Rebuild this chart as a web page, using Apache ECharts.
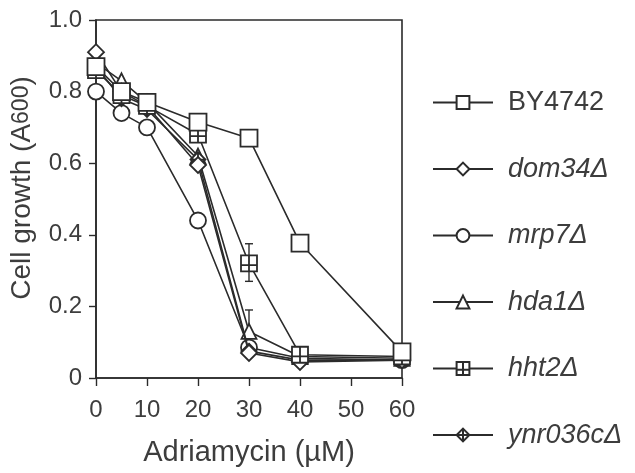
<!DOCTYPE html>
<html>
<head>
<meta charset="utf-8">
<script src="https://cdn.jsdelivr.net/npm/echarts@6/dist/echarts.min.js"></script>
<style>
  html, body { margin: 0; padding: 0; background: #fff; }
  #chart { width: 635px; height: 473px; }
</style>
</head>
<body>
<div id="chart"></div>
<script>
// Adriamycin doses (µM)
const doses = [0, 5, 10, 20, 30, 40, 60];

// Cell growth (A600) per strain
const by4742  = [0.87, 0.80, 0.77, 0.715, 0.67, 0.377, 0.073];
const dom34   = [0.91, 0.80, 0.76, 0.595, 0.07, 0.045, 0.05];
const mrp7    = [0.80, 0.74, 0.70, 0.44, 0.085, 0.055, 0.05];
const hda1    = [0.88, 0.83, 0.77, 0.62, 0.13, 0.06, 0.055];
const hht2    = [0.86, 0.79, 0.76, 0.68, 0.32, 0.065, 0.06];
const ynr036c = [0.87, 0.78, 0.75, 0.61, 0.075, 0.05, 0.05];

// Error bars: [dose, low, high]
const hht2Err = [[30, 0.27, 0.375]];
const hda1Err = [[30, 0.09, 0.19]];

const ink = '#2b2b2b';
const textInk = '#3d3d3d';
const font = 'Liberation Sans, Arial, sans-serif';

const squareCross = 'path://M0,0L10,0L10,10L0,10Z M5,0L5,10 M0,6L10,6';
const diamondCross = 'path://M5,0L10,5L5,10L0,5Z M5,0L5,10 M0,5L10,5';

function pairs(vals) { return doses.map((d, i) => [d, vals[i]]); }

function lineSeries(name, vals, symbol, size, z) {
  return {
    name: name,
    type: 'line',
    data: pairs(vals),
    symbol: symbol,
    symbolSize: size,
    showAllSymbol: true,
    z: z,
    lineStyle: { color: ink, width: 1.6 },
    itemStyle: { color: '#fff', borderColor: ink, borderWidth: 1.8 }
  };
}

function errSeries(name, data) {
  return {
    name: name,
    type: 'custom',
    z: 1,
    data: data,
    renderItem: function (params, api) {
      const x = api.value(0);
      const lo = api.coord([x, api.value(1)]);
      const hi = api.coord([x, api.value(2)]);
      const w = 4;
      return {
        type: 'group',
        children: [
          { type: 'line', shape: { x1: lo[0], y1: lo[1], x2: hi[0], y2: hi[1] }, style: { stroke: ink, lineWidth: 1.4 } },
          { type: 'line', shape: { x1: hi[0] - w, y1: hi[1], x2: hi[0] + w, y2: hi[1] }, style: { stroke: ink, lineWidth: 1.4 } },
          { type: 'line', shape: { x1: lo[0] - w, y1: lo[1], x2: lo[0] + w, y2: lo[1] }, style: { stroke: ink, lineWidth: 1.4 } }
        ]
      };
    }
  };
}

const chart = echarts.init(document.getElementById('chart'), null, { renderer: 'canvas' });

chart.setOption({
  animation: false,
  backgroundColor: '#fff',
  textStyle: { fontFamily: font },
  grid: {
    left: 96, right: 233, top: 20, bottom: 95,
    show: true, borderColor: ink, borderWidth: 1.6, backgroundColor: 'transparent'
  },
  xAxis: {
    type: 'value',
    min: 0, max: 60, interval: 10,
    name: 'Adriamycin (µM)',
    nameLocation: 'middle',
    nameGap: 60,
    nameTextStyle: { fontSize: 29, color: textInk },
    axisLine: { lineStyle: { color: ink, width: 1.6 } },
    axisTick: { length: 8, lineStyle: { color: ink, width: 1.4 } },
    axisLabel: { fontSize: 24, color: textInk, margin: 20 },
    splitLine: { show: false }
  },
  yAxis: {
    type: 'value',
    min: 0, max: 1, interval: 0.2,
    axisLine: { show: true, lineStyle: { color: ink, width: 1.6 } },
    axisTick: { show: true, length: 7, lineStyle: { color: ink, width: 1.4 } },
    axisLabel: {
      fontSize: 24, color: textInk, margin: 14,
      formatter: v => (v === 0 ? '0' : v.toFixed(1))
    },
    splitLine: { show: false }
  },
  graphic: [{
    type: 'text',
    x: 22, y: 188,
    rotation: Math.PI / 2,
    style: {
      text: '{a|Cell growth (A}{s|600}{a|)}',
      align: 'center', verticalAlign: 'middle',
      fill: textInk,
      rich: {
        a: { fontSize: 28, fill: textInk, fontFamily: font },
        s: { fontSize: 23, fill: textInk, fontFamily: font }
      }
    }
  }],
  legend: {
    orient: 'vertical',
    left: 427, top: 84,
    itemWidth: 60, itemHeight: 16,
    itemGap: 39.5,
    textStyle: {
      fontSize: 27, color: textInk, lineHeight: 27, padding: [0, 0, 0, 10],
      rich: {
        n: { fontSize: 27, color: textInk },
        i: { fontSize: 27, color: textInk, fontStyle: 'italic' }
      }
    },
    formatter: name => (name === 'BY4742' ? '{n|' + name + '}' : '{i|' + name + '}'),
    data: ['BY4742', 'dom34Δ', 'mrp7Δ', 'hda1Δ', 'hht2Δ', 'ynr036cΔ']
  },
  series: [
    errSeries('hht2Δ err', hht2Err),
    errSeries('hda1Δ err', hda1Err),
    lineSeries('mrp7Δ', mrp7, 'circle', 16, 2),
    lineSeries('hda1Δ', hda1, 'triangle', 15, 3),
    lineSeries('ynr036cΔ', ynr036c, diamondCross, 15, 4),
    lineSeries('dom34Δ', dom34, 'diamond', 16, 5),
    lineSeries('hht2Δ', hht2, squareCross, 16, 6),
    lineSeries('BY4742', by4742, 'rect', 17, 7)
  ]
});
</script>
</body>
</html>
